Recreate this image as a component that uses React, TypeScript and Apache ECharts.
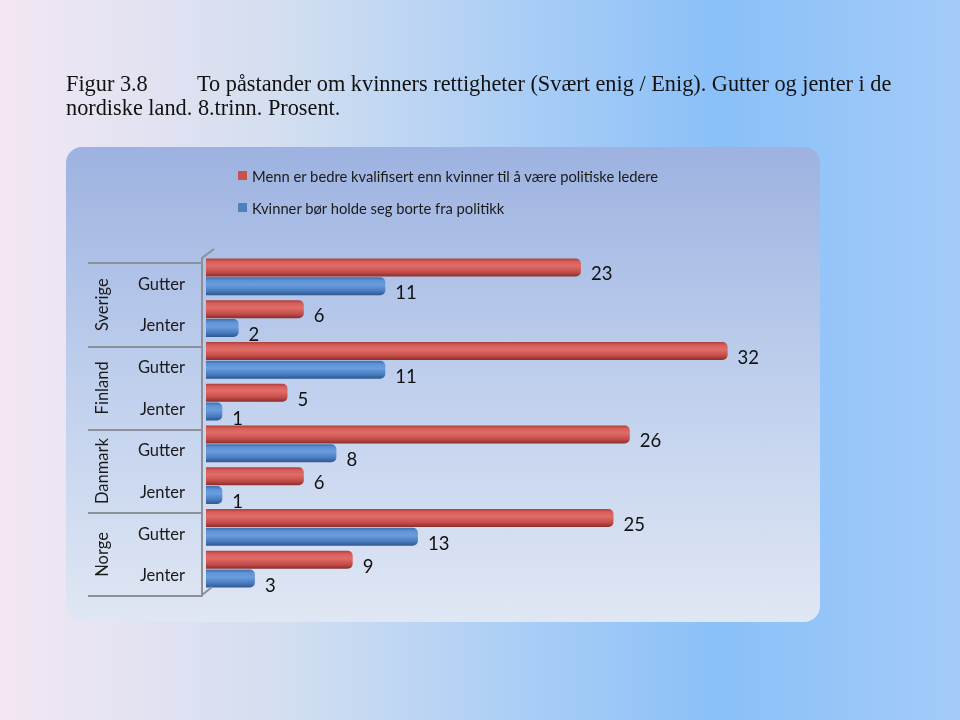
import React, { useEffect, useRef } from "react";
import * as echarts from "echarts";

const groups = ["Sverige|Gutter", "Sverige|Jenter", "Finland|Gutter", "Finland|Jenter", "Danmark|Gutter", "Danmark|Jenter", "Norge|Gutter", "Norge|Jenter"];
const countries = ["Sverige", "Finland", "Danmark", "Norge"];
const seriesNames = [
  "Menn er bedre kvalifisert enn kvinner til å være politiske ledere",
  "Kvinner bør holde seg borte fra politikk",
];
const mennValues = [23, 6, 32, 5, 26, 6, 25, 9];
const kvinnerValues = [11, 2, 11, 1, 8, 1, 13, 3];
const titleFig = "Figur 3.8";
const titleLine1 = "To påstander om kvinners rettigheter (Svært enig / Enig). Gutter og jenter i de";
const titleLine2 = "nordiske land. 8.trinn. Prosent.";

const FONT = "Lato, 'Noto Sans', sans-serif";
const SERIF = "22.3px 'Liberation Serif', 'Times New Roman', serif";

const redGrad = {
  type: "linear", x: 0, y: 0, x2: 0, y2: 1,
  colorStops: [
    { offset: 0, color: "#a9403c" },
    { offset: 0.18, color: "#d95e5a" },
    { offset: 0.42, color: "#e06c68" },
    { offset: 0.75, color: "#c64e4a" },
    { offset: 1, color: "#8a2e2b" },
  ],
};
const blueGrad = {
  type: "linear", x: 0, y: 0, x2: 0, y2: 1,
  colorStops: [
    { offset: 0, color: "#3d6dab" },
    { offset: 0.18, color: "#5f93d6" },
    { offset: 0.42, color: "#6a9ddd" },
    { offset: 0.75, color: "#4a7cc0" },
    { offset: 1, color: "#2d568e" },
  ],
};

export default function App() {
  const ref = useRef<HTMLDivElement>(null);
  useEffect(() => {
    if (!ref.current) return;
    const chart = echarts.init(ref.current, undefined, { renderer: "svg", width: 960, height: 720 });
    const valueLabel = {
      show: true,
      position: "right",
      distance: 10,
      offset: [0, 6],
      fontSize: 18.5,
      fontFamily: FONT,
      color: "#111",
    };
    chart.setOption({
      animation: false,
      graphic: [
        {
          type: "rect", z: -20, silent: true,
          shape: { x: 0, y: 0, width: 960, height: 720 },
          style: {
            fill: {
              type: "linear", x: 0, y: 0, x2: 1, y2: 0,
              colorStops: [
                { offset: 0, color: "#f3e7f3" },
                { offset: 0.3, color: "#d2def0" },
                { offset: 0.55, color: "#a9cdf6" },
                { offset: 0.75, color: "#8ac0f8" },
                { offset: 1, color: "#a3cbf9" },
              ],
            },
          },
        },
        {
          type: "rect", z: -19, silent: true,
          shape: { x: 66, y: 147, width: 754, height: 475, r: 16 },
          style: {
            fill: {
              type: "linear", x: 0, y: 0, x2: 0, y2: 1,
              colorStops: [
                { offset: 0, color: "#9db2e0" },
                { offset: 0.45, color: "#bccdec" },
                { offset: 1, color: "#e0e7f4" },
              ],
            },
          },
        },
        {
          type: "text", left: 66, top: 72, z: 5,
          style: { text: titleFig, font: SERIF, fill: "#111" },
        },
        {
          type: "text", left: 197, top: 72, z: 5,
          style: { text: titleLine1, font: SERIF, fill: "#111" },
        },
        {
          type: "text", left: 66, top: 96, z: 5,
          style: { text: titleLine2, font: SERIF, fill: "#111" },
        },
        {
          type: "polyline", z: 5, silent: true,
          shape: { points: [[202, 264], [202, 258], [214, 249]] },
          style: { stroke: "#8c9099", lineWidth: 2, fill: null },
        },
        {
          type: "polyline", z: 5, silent: true,
          shape: { points: [[202, 595], [212, 587]] },
          style: { stroke: "#8c9099", lineWidth: 2, fill: null },
        },
      ],
      legend: {
        orient: "vertical",
        left: 238,
        top: 168,
        padding: 0,
        itemWidth: 9,
        itemHeight: 9,
        itemGap: 17,
        icon: "rect",
        textStyle: { fontSize: 14.75, fontFamily: FONT, color: "#1a1a1a" },
        data: [
          { name: seriesNames[0], itemStyle: { color: "#c9504c" } },
          { name: seriesNames[1], itemStyle: { color: "#4f81bd" } },
        ],
      },
      grid: [
        { left: 206, top: 256, width: 652, height: 334 },
        { left: 202, top: 263, width: 656, height: 333 },
      ],
      xAxis: [
        { type: "value", gridIndex: 0, min: 0, max: 40, show: false },
        { type: "value", gridIndex: 1, min: 0, max: 40, show: false },
      ],
      yAxis: [
        {
          type: "category", gridIndex: 0, data: groups, inverse: true, show: false,
        },
        {
          type: "category", gridIndex: 1, data: groups, inverse: true, position: "left",
          axisLine: { show: true, lineStyle: { color: "#8c9099", width: 2 } },
          axisTick: { show: false },
          axisLabel: {
            interval: 0, margin: 17, fontSize: 16.5, fontFamily: FONT, color: "#1a1a1a",
            formatter: (v: string) => v.split("|")[1],
          },
        },
        {
          type: "category", gridIndex: 1, data: countries, inverse: true, position: "left",
          axisLine: { show: false },
          axisTick: { show: true, interval: 0, length: 114, lineStyle: { color: "#8c9099", width: 2 } },
          axisLabel: {
            interval: 0, hideOverlap: false, rotate: 90, margin: 92, fontSize: 16.5, fontFamily: FONT, color: "#1a1a1a",
          },
        },
      ],
      series: [
        {
          name: seriesNames[0], type: "bar", xAxisIndex: 0, yAxisIndex: 0,
          data: mennValues, barWidth: 18, barGap: "5%",
          itemStyle: { color: redGrad, borderRadius: [0, 5, 5, 0] },
          label: valueLabel,
        },
        {
          name: seriesNames[1], type: "bar", xAxisIndex: 0, yAxisIndex: 0,
          data: kvinnerValues, barWidth: 18, barGap: "5%",
          itemStyle: { color: blueGrad, borderRadius: [0, 5, 5, 0] },
          label: valueLabel,
        },
      ],
    });
    return () => chart.dispose();
  }, []);
  return <div ref={ref} style={{ position: "fixed", left: 0, top: 0, width: 960, height: 720 }} />;
}
